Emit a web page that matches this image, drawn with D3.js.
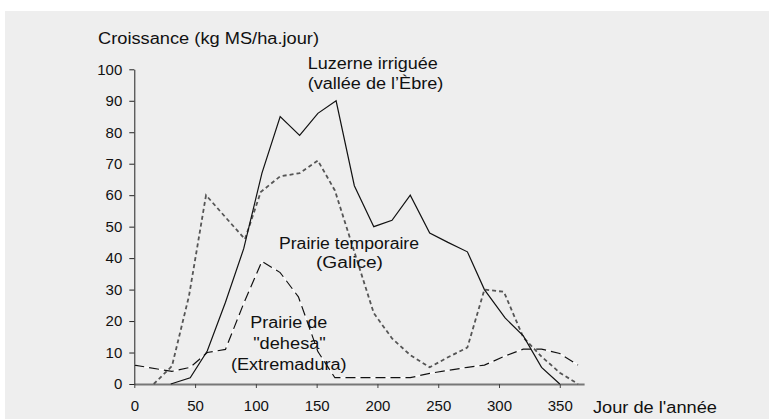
<!DOCTYPE html>
<html>
<head>
<meta charset="utf-8">
<script src="https://cdn.jsdelivr.net/npm/d3@7"></script>
<style>
  html, body { margin: 0; padding: 0; background: #ffffff; }
  svg { display: block; }
  text { font-family: "Liberation Sans", Arial, Helvetica, sans-serif; fill: #111; }
</style>
</head>
<body>
<svg id="chart" width="769" height="419"></svg>
<script>
// ---- Data ----
const luzerneDays   = [30, 46, 60, 75, 90, 105, 120, 136, 151, 166, 181, 197, 212, 227, 243, 258, 274, 288, 305, 320, 335, 350];
const luzerneValues = [0, 2, 10.5, 26, 43, 67, 85, 79, 86, 90, 63, 50, 52, 60, 48, 45, 42, 30, 21, 15.3, 5.3, 0];

const galiceDays    = [16, 31, 45, 59, 75, 91, 104, 120, 136, 151, 165, 181, 197, 212, 227, 243, 258, 274, 288, 304, 320, 335, 350, 365];
const galiceValues  = [0, 5.7, 28, 60, 53, 46, 61, 66, 67, 71, 61.5, 42, 22.5, 14.5, 9.2, 5.3, 8.5, 11.6, 30, 29.3, 14.8, 8.7, 3.6, 0];

const dehesaDays    = [0, 31, 46, 60, 75, 90, 105, 120, 135, 151, 165, 181, 197, 212, 227, 243, 258, 274, 288, 305, 320, 335, 350, 365];
const dehesaValues  = [6, 4, 5.3, 10, 11, 25.6, 39, 35.4, 27.7, 10.3, 2, 2, 2, 2, 2, 3.4, 4.3, 5.3, 6, 8.9, 11.1, 11.1, 9.7, 6];

const xTicks = [0, 50, 100, 150, 200, 250, 300, 350];
const yTicks = [0, 10, 20, 30, 40, 50, 60, 70, 80, 90, 100];

const yTitle = "Croissance (kg MS/ha.jour)";
const xTitle = "Jour de l'année";
const labelLuzerne = ["Luzerne irriguée", "(vallée de l’Èbre)"];
const labelGalice  = ["Prairie temporaire", "(Galice)"];
const labelDehesa  = ["Prairie de", "\"dehesa\"", "(Extremadura)"];

// ---- Drawing ----
const svg = d3.select("#chart");

svg.append("rect")
  .attr("x", 5).attr("y", 11)
  .attr("width", 764).attr("height", 408)
  .attr("fill", "#eeeeee");

const x = d3.scaleLinear().domain([0, 370]).range([134.3, 584.1]);
const y = d3.scaleLinear().domain([0, 100]).range([384, 69.3]);

const zip = (ds, vs) => ds.map((d, i) => [d, vs[i]]);
const line = d3.line().x(d => x(d[0])).y(d => y(d[1]));

// X axis
const xAxis = svg.append("g")
  .attr("transform", `translate(0,${y(0)})`)
  .call(d3.axisBottom(x).tickValues(xTicks).tickSize(4).tickPadding(12).tickSizeOuter(0));
xAxis.select(".domain").attr("stroke", "#777").attr("stroke-width", 2);
xAxis.selectAll(".tick line").attr("stroke", "#444").attr("stroke-width", 1);
xAxis.selectAll(".tick text")
  .attr("font-size", 15).attr("fill", "#111")
  .style("font-family", "'Liberation Sans', Arial, sans-serif");

// Y axis
const yAxis = svg.append("g")
  .attr("transform", `translate(${x(0)},0)`)
  .call(d3.axisLeft(y).tickValues(yTicks).tickSize(5).tickPadding(7).tickSizeOuter(0));
yAxis.select(".domain").attr("stroke", "#222").attr("stroke-width", 1);
yAxis.selectAll(".tick line").attr("stroke", "#222");
yAxis.selectAll(".tick text")
  .attr("font-size", 15).attr("fill", "#111")
  .style("font-family", "'Liberation Sans', Arial, sans-serif");

// Lines
// Dehesa: white underlay + dark long dashes
svg.append("path").datum(zip(dehesaDays, dehesaValues))
  .attr("d", line).attr("fill", "none")
  .attr("stroke", "#ffffff").attr("stroke-width", 1.2);
svg.append("path").datum(zip(dehesaDays, dehesaValues))
  .attr("d", line).attr("fill", "none")
  .attr("stroke", "#111").attr("stroke-width", 1.2)
  .attr("stroke-dasharray", "10,5");

// Galice: gray short dashes
svg.append("path").datum(zip(galiceDays, galiceValues))
  .attr("d", line).attr("fill", "none")
  .attr("stroke", "#555").attr("stroke-width", 1.8)
  .attr("stroke-dasharray", "4,3");

// Luzerne: solid black
svg.append("path").datum(zip(luzerneDays, luzerneValues))
  .attr("d", line).attr("fill", "none")
  .attr("stroke", "#111").attr("stroke-width", 1.2);

// Texts
function addText(str, tx, ty, len, anchor) {
  const t = svg.append("text")
    .attr("x", tx).attr("y", ty)
    .attr("font-size", 16)
    .attr("text-anchor", anchor || "start")
    .text(str);
  if (len) t.attr("textLength", len).attr("lengthAdjust", "spacingAndGlyphs");
  return t;
}

addText(yTitle, 98, 44, 221);
addText(xTitle, 593, 413, 124);

addText(labelLuzerne[0], 307.7, 68.5, 130);
addText(labelLuzerne[1], 307.7, 88.5, 135.6);

addText(labelGalice[0], 349, 249, 140, "middle");
addText(labelGalice[1], 349.5, 268, 67, "middle");

addText(labelDehesa[0], 288.7, 328, 77, "middle");
addText(labelDehesa[1], 289.5, 349, 72.7, "middle");
addText(labelDehesa[2], 288.8, 370, 115.7, "middle");
</script>
</body>
</html>
